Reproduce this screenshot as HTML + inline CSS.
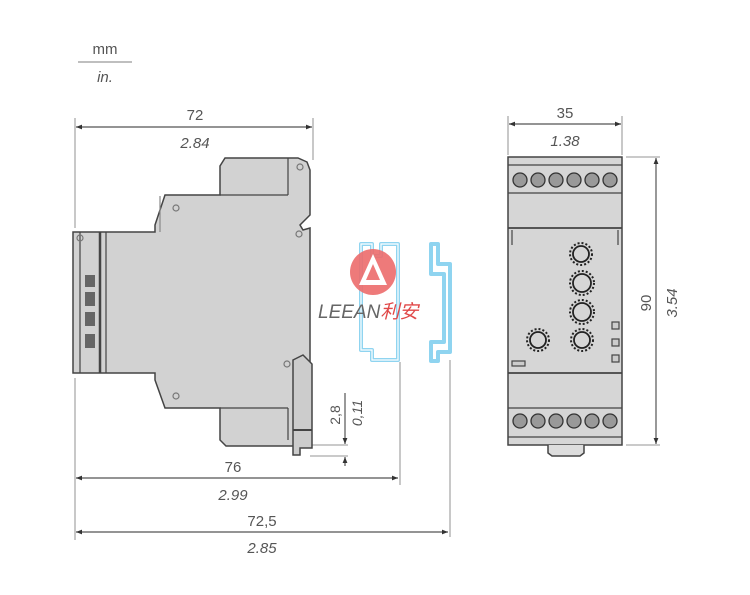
<!DOCTYPE html>
<html><head><meta charset="utf-8"><style>
html,body{margin:0;padding:0;background:#fff;width:750px;height:595px;overflow:hidden}
svg{display:block}
text{font-family:"Liberation Sans","Noto Sans CJK SC",sans-serif;fill:#555}
</style></head><body>
<svg width="750" height="595" viewBox="0 0 750 595" xmlns="http://www.w3.org/2000/svg">
<defs>
<marker id="a" viewBox="0 0 10 10" refX="10" refY="5" markerWidth="7" markerHeight="5" orient="auto-start-reverse"><path d="M0,1 L10,5 L0,9 z" fill="#333"/></marker>
</defs>
<text x="105" y="54" font-size="15" text-anchor="middle">mm</text>
<line x1="78" y1="62" x2="132" y2="62" stroke="#999" stroke-width="1.2"/>
<text x="105" y="82" font-size="15" font-style="italic" text-anchor="middle">in.</text>

<g stroke="#aaa" stroke-width="1.3" fill="none">
<line x1="75" y1="118" x2="75" y2="228"/>
<line x1="75" y1="378" x2="75" y2="540"/>
<line x1="313" y1="118" x2="313" y2="160"/>
<line x1="400" y1="362" x2="400" y2="485"/>
<line x1="450" y1="360" x2="450" y2="537"/>
<line x1="508" y1="116" x2="508" y2="155"/>
<line x1="622" y1="116" x2="622" y2="155"/>
<line x1="626" y1="157" x2="660" y2="157"/>
<line x1="626" y1="445" x2="660" y2="445"/>
<line x1="310" y1="445" x2="348" y2="445"/>
<line x1="310" y1="456" x2="348" y2="456"/>
</g>
<g stroke="#555" stroke-width="1.2">
<line x1="76" y1="127" x2="312" y2="127" marker-start="url(#a)" marker-end="url(#a)"/>
<line x1="509" y1="124" x2="621" y2="124" marker-start="url(#a)" marker-end="url(#a)"/>
<line x1="656" y1="158" x2="656" y2="444" marker-start="url(#a)" marker-end="url(#a)"/>
<line x1="76" y1="478" x2="398" y2="478" marker-start="url(#a)" marker-end="url(#a)"/>
<line x1="76" y1="532" x2="448" y2="532" marker-start="url(#a)" marker-end="url(#a)"/>
<line x1="345" y1="393" x2="345" y2="444" marker-end="url(#a)"/>
<line x1="345" y1="466" x2="345" y2="457" marker-end="url(#a)"/>
</g>
<text x="195" y="120" font-size="15" text-anchor="middle">72</text>
<text x="195" y="148" font-size="15" font-style="italic" text-anchor="middle">2.84</text>
<text x="565" y="118" font-size="15" text-anchor="middle">35</text>
<text x="565" y="146" font-size="15" font-style="italic" text-anchor="middle">1.38</text>
<text x="233" y="472" font-size="15" text-anchor="middle">76</text>
<text x="233" y="500" font-size="15" font-style="italic" text-anchor="middle">2.99</text>
<text x="262" y="526" font-size="15" text-anchor="middle">72,5</text>
<text x="262" y="553" font-size="15" font-style="italic" text-anchor="middle">2.85</text>
<text transform="translate(651,303) rotate(-90)" font-size="15" text-anchor="middle">90</text>
<text transform="translate(677,303) rotate(-90)" font-size="15" font-style="italic" text-anchor="middle">3.54</text>
<text transform="translate(340,415) rotate(-90)" font-size="14" text-anchor="middle">2,8</text>
<text transform="translate(362,413) rotate(-90)" font-size="14" font-style="italic" text-anchor="middle">0,11</text>

<g stroke="#444" stroke-width="1.5" fill="#d2d2d2">
<path d="M225,158 L298,158 L307,162 L310,170 L310,215 L300,225 L303,230 L310,228 L310,400 L300,408 L300,446 L226,446 L220,440 L220,408 L165,408 L155,380 L155,373 L73,373 L73,232 L155,232 L155,225 L165,195 L220,195 L220,166 z"/>
<path d="M293,360 L303,355 L312,364 L312,448 L300,448 L300,455 L293,455 z" fill="#ccc"/>
</g>
<g stroke="#444" stroke-width="1.2" fill="none">
<line x1="220" y1="195" x2="288" y2="195"/>
<line x1="288" y1="158" x2="288" y2="195"/>
<line x1="220" y1="408" x2="288" y2="408"/>
<line x1="288" y1="408" x2="288" y2="440"/>
<line x1="100" y1="232" x2="100" y2="373" stroke-width="2.5"/>
<line x1="106" y1="232" x2="106" y2="373"/>
<line x1="80" y1="232" x2="80" y2="373"/>
<line x1="293" y1="430" x2="312" y2="430" stroke-width="2"/>
<line x1="160" y1="196" x2="160" y2="232" stroke="#888"/>
</g>
<g fill="#666">
<rect x="85" y="275" width="10" height="12"/><rect x="85" y="292" width="10" height="14"/><rect x="85" y="312" width="10" height="14"/><rect x="85" y="334" width="10" height="14"/>
</g>
<g fill="none" stroke="#777" stroke-width="1.2">
<circle cx="176" cy="208" r="3"/><circle cx="299" cy="234" r="3"/><circle cx="300" cy="167" r="3"/><circle cx="287" cy="364" r="3"/><circle cx="176" cy="396" r="3"/><circle cx="80" cy="238" r="3"/>
</g>

<g fill="none" stroke="#8fd4f0" stroke-width="4" stroke-linejoin="round">
<path d="M361,244 L372,244 L372,256 L381,256 L381,244 L398,244 L398,360 L372,360 L372,350 L361,350 z"/>
<path d="M431,244 L438,244 L438,264 L450,264 L450,352 L438,352 L438,361 L431,361 L431,342 L444,342 L444,274 L431,274 z"/>
</g>
<g fill="none" stroke="#fff" stroke-width="1.2">
<path d="M361,244 L372,244 L372,256 L381,256 L381,244 L398,244 L398,360 L372,360 L372,350 L361,350 z"/>
</g>
<circle cx="373" cy="272" r="23" fill="#ec6b6b" opacity="0.9"/>
<path d="M373,254 L387,285 L359,285 z M373,264 L366,280 L380,280 z" fill="#fff" fill-rule="evenodd"/>
<text x="318" y="318" font-size="19" font-style="italic" style="fill:#666">LEEAN<tspan style="fill:#e04848">利安</tspan></text>

<g stroke="#444" stroke-width="1.5">
<rect x="508" y="157" width="114" height="288" fill="#d6d6d6"/>
<path d="M548,445 L548,453 L552,456 L580,456 L584,453 L584,445" fill="#ddd"/>
</g>
<g stroke="#444" stroke-width="1.2" fill="none">
<line x1="508" y1="165" x2="622" y2="165"/>
<line x1="508" y1="193" x2="622" y2="193"/>
<line x1="508" y1="228" x2="622" y2="228" stroke-width="1.8"/>
<line x1="508" y1="373" x2="622" y2="373" stroke-width="1.8"/>
<line x1="508" y1="408" x2="622" y2="408"/>
<line x1="508" y1="437" x2="622" y2="437"/>
<path d="M512,230 L512,245 M618,230 L618,245"/>
</g>
<g fill="#999" stroke="#333" stroke-width="1.3">
<circle cx="520" cy="180" r="7"/><circle cx="538" cy="180" r="7"/><circle cx="556" cy="180" r="7"/><circle cx="574" cy="180" r="7"/><circle cx="592" cy="180" r="7"/><circle cx="610" cy="180" r="7"/>
<circle cx="520" cy="421" r="7"/><circle cx="538" cy="421" r="7"/><circle cx="556" cy="421" r="7"/><circle cx="574" cy="421" r="7"/><circle cx="592" cy="421" r="7"/><circle cx="610" cy="421" r="7"/>
</g>
<g fill="none" stroke="#222" stroke-width="2" stroke-dasharray="2 2">
<circle cx="581" cy="254" r="11"/><circle cx="582" cy="283" r="12"/><circle cx="582" cy="312" r="12"/><circle cx="582" cy="340" r="11"/><circle cx="538" cy="340" r="11"/>
</g>
<g fill="none" stroke="#222" stroke-width="1.8">
<circle cx="581" cy="254" r="8"/><circle cx="582" cy="283" r="9"/><circle cx="582" cy="312" r="9"/><circle cx="582" cy="340" r="8"/><circle cx="538" cy="340" r="8"/>
</g>
<g fill="#ccc" stroke="#444" stroke-width="1.2">
<rect x="612" y="322" width="7" height="7"/><rect x="612" y="339" width="7" height="7"/><rect x="612" y="355" width="7" height="7"/>
<rect x="512" y="361" width="13" height="5"/>
</g>
</svg>
</body></html>
